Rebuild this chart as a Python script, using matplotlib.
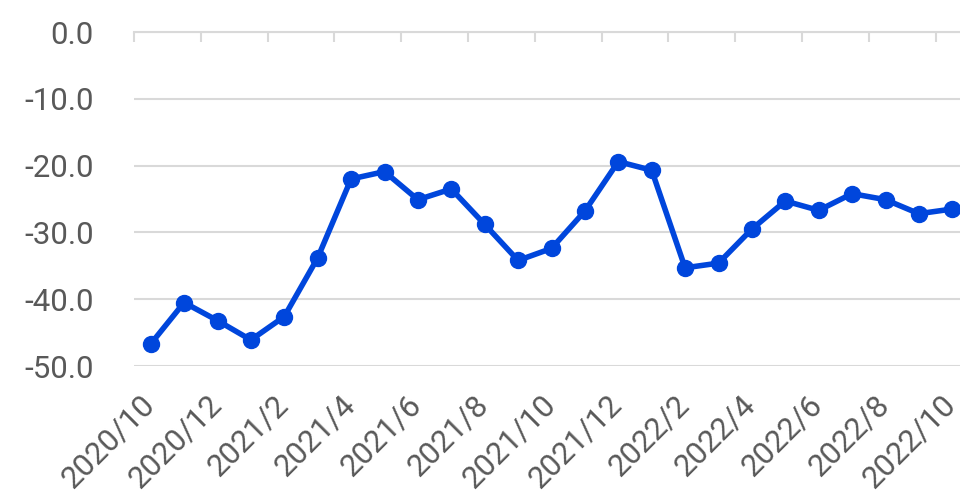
import matplotlib
matplotlib.use("Agg")
import matplotlib.pyplot as plt
from matplotlib.transforms import ScaledTranslation

plt.rcParams['font.family'] = ['Roboto', 'Liberation Sans', 'DejaVu Sans']

months = ["2020/10", "2020/11", "2020/12", "2021/1", "2021/2", "2021/3", "2021/4",
          "2021/5", "2021/6", "2021/7", "2021/8", "2021/9", "2021/10", "2021/11",
          "2021/12", "2022/1", "2022/2", "2022/3", "2022/4", "2022/5", "2022/6",
          "2022/7", "2022/8", "2022/9", "2022/10"]
values = [-46.7, -40.5, -43.2, -46.1, -42.6, -33.8, -22.0, -20.9, -25.1, -23.5,
          -28.8, -34.2, -32.4, -26.8, -19.4, -20.7, -35.3, -34.6, -29.5, -25.3,
          -26.7, -24.2, -25.1, -27.2, -26.5]
yticks = [0, -10, -20, -30, -40, -50]

GRID = '#D9D9D9'
TXT = '#595959'
LINE = '#0046DC'

fig = plt.figure(figsize=(9.6, 4.96), dpi=100)
ax = fig.add_axes([134/960, (496-366)/496, 835/960, (366-32)/496])

x = list(range(len(months)))
ax.plot(x, values, color=LINE, lw=4.0, marker='o', ms=11.5, zorder=3,
        solid_joinstyle='round', clip_on=False)

ax.set_xlim(-0.5, len(months) - 0.5)
ax.set_ylim(-50, 0)

ax.set_yticks(yticks)
ax.set_yticklabels([f"{v:.1f}" for v in yticks])
ax.yaxis.grid(True, color=GRID, lw=1.5)
ax.set_axisbelow(True)

for s in ['left', 'right', 'bottom']:
    ax.spines[s].set_visible(False)
ax.spines['top'].set_color(GRID)
ax.spines['top'].set_linewidth(1.5)

ax.tick_params(axis='y', length=0, pad=29, labelsize=22.5, labelcolor=TXT)

ax.set_xticks(x[::2])
ax.set_xticklabels(months[::2], rotation=45, ha='right', va='top',
                   rotation_mode='anchor')
ax.set_xticks([i - 0.5 for i in range(0, len(months) + 1, 2)], minor=True)
ax.tick_params(axis='x', which='major', length=0, pad=17, labelsize=22.5,
               labelcolor=TXT, bottom=True, top=False)
ax.tick_params(axis='x', which='minor', length=7.5, width=1.5, color=GRID,
               direction='in', top=True, bottom=False)

off = ScaledTranslation(-11/100, 0, fig.dpi_scale_trans)
for lab in ax.get_xticklabels():
    lab.set_transform(lab.get_transform() + off)

fig.savefig('out.png', dpi=100)
